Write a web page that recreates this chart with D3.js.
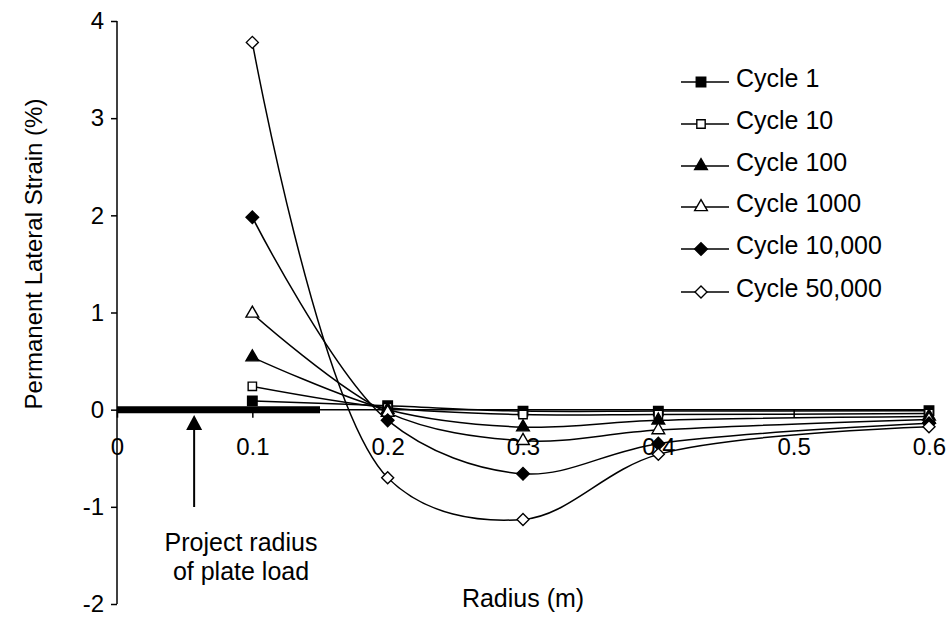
<!DOCTYPE html>
<html>
<head>
<meta charset="utf-8">
<script src="https://cdn.jsdelivr.net/npm/d3@7/dist/d3.min.js"></script>
<style>
  html, body { margin: 0; padding: 0; background: #fff; }
  svg { display: block; font-family: "Liberation Sans", Arial, sans-serif; }
</style>
</head>
<body>
<svg id="chart" width="948" height="617"></svg>
<script>
// Measurement radii (m)
const radius = [0.1, 0.2, 0.3, 0.4, 0.6];

// Permanent lateral strain (%) per load cycle
const cycle1     = [0.09, 0.04, -0.015, -0.015, -0.01];
const cycle10    = [0.24, 0.02, -0.05, -0.05, -0.04];
const cycle100   = [0.54, 0.00, -0.18, -0.11, -0.07];
const cycle1000  = [0.99, -0.03, -0.32, -0.21, -0.10];
const cycle10000 = [1.98, -0.11, -0.66, -0.35, -0.14];
const cycle50000 = [3.78, -0.70, -1.13, -0.46, -0.175];

const seriesNames = ["Cycle 1", "Cycle 10", "Cycle 100", "Cycle 1000", "Cycle 10,000", "Cycle 50,000"];
const seriesValues = [cycle1, cycle10, cycle100, cycle1000, cycle10000, cycle50000];
const seriesMarkers = ["squareFilled", "squareOpen", "triangleFilled", "triangleOpen", "diamondFilled", "diamondOpen"];

// Axis ticks
const xTicks = [0, 0.1, 0.2, 0.3, 0.4, 0.5, 0.6];
const xTickLabels = ["0", "0.1", "0.2", "0.3", "0.4", "0.5", "0.6"];
const yTicks = [-2, -1, 0, 1, 2, 3, 4];
const yTickLabels = ["-2", "-1", "0", "1", "2", "3", "4"];

// Plate load extent and its annotation
const plateRadius = [0, 0.15];
const arrowRadius = 0.057;
const annotationLines = ["Project radius", "of plate load"];

const svg = d3.select("#chart");
const FONT = 25;
const TICK_FONT = 24;
const FAMILY = "Liberation Sans, Arial, sans-serif";

const x = d3.scaleLinear().domain([0, 0.6]).range([117, 929]);
const y = d3.scaleLinear().domain([-2, 4]).range([604, 21]);

// Y axis
const yAxis = svg.append("g")
  .attr("transform", `translate(${x(0)},0)`)
  .call(d3.axisLeft(y).tickValues(yTicks).tickSize(6).tickPadding(7)
    .tickFormat((d, i) => yTickLabels[i]));
yAxis.select(".domain").remove();
yAxis.selectAll(".tick line").attr("stroke", "#000").attr("stroke-width", 1.5);
yAxis.selectAll(".tick text").attr("font-size", TICK_FONT).attr("fill", "#000")
  .attr("font-family", FAMILY);
svg.append("line")
  .attr("x1", x(0)).attr("x2", x(0)).attr("y1", y(4)).attr("y2", y(-2))
  .attr("stroke", "#000").attr("stroke-width", 1.5);

// X axis crossing at zero strain
const xAxis = svg.append("g")
  .attr("transform", `translate(0,${y(0)})`)
  .call(d3.axisBottom(x).tickValues(xTicks).tickSize(8)
    .tickFormat((d, i) => xTickLabels[i]));
xAxis.select(".domain").remove();
xAxis.selectAll(".tick line").attr("stroke", "#000").attr("stroke-width", 1.5);
xAxis.selectAll(".tick text").attr("font-size", TICK_FONT).attr("fill", "#000")
  .attr("font-family", FAMILY)
  .attr("y", 45).attr("dy", 0);
svg.append("line")
  .attr("x1", x(0)).attr("x2", x(0.6)).attr("y1", y(0)).attr("y2", y(0))
  .attr("stroke", "#000").attr("stroke-width", 1.5);

// Axis titles
svg.append("text")
  .attr("transform", "translate(42,254) rotate(-90)")
  .attr("text-anchor", "middle").attr("font-size", 24).attr("fill", "#000")
  .text("Permanent Lateral Strain (%)");
svg.append("text")
  .attr("x", (x(0) + x(0.6)) / 2).attr("y", 607)
  .attr("text-anchor", "middle").attr("font-size", FONT).attr("fill", "#000")
  .text("Radius (m)");

// Plate load extent drawn as a heavy bar on the zero line
svg.append("line")
  .attr("x1", x(plateRadius[0])).attr("x2", x(plateRadius[1]))
  .attr("y1", y(0)).attr("y2", y(0))
  .attr("stroke", "#000").attr("stroke-width", 7);

// Marker shapes
const diamondType = {
  draw(ctx, size) {
    const r = Math.sqrt(size / 2);
    ctx.moveTo(0, -r); ctx.lineTo(r, 0); ctx.lineTo(0, r); ctx.lineTo(-r, 0); ctx.closePath();
  }
};
const markerSpec = {
  squareFilled:   { type: d3.symbolSquare,   size: 90,  fill: "#000" },
  squareOpen:     { type: d3.symbolSquare,   size: 70,  fill: "#fff" },
  triangleFilled: { type: d3.symbolTriangle, size: 70,  fill: "#000" },
  triangleOpen:   { type: d3.symbolTriangle, size: 70,  fill: "#fff" },
  diamondFilled:  { type: diamondType,       size: 80,  fill: "#000" },
  diamondOpen:    { type: diamondType,       size: 72,  fill: "#fff" }
};
function markerPath(kind) {
  const s = markerSpec[kind];
  return d3.symbol().type(s.type).size(s.size)();
}

const line = d3.line()
  .x(d => x(d[0])).y(d => y(d[1]))
  .curve(d3.curveCatmullRom.alpha(0.5));

// Series: smoothed lines with markers
seriesValues.forEach((vals, i) => {
  const pts = radius.map((r, k) => [r, vals[k]]);
  const g = svg.append("g").attr("class", "series");
  g.append("path")
    .attr("d", line(pts))
    .attr("fill", "none").attr("stroke", "#000").attr("stroke-width", 1.5);
  g.selectAll("path.marker").data(pts).join("path")
    .attr("class", "marker")
    .attr("transform", d => `translate(${x(d[0])},${y(d[1])})`)
    .attr("d", markerPath(seriesMarkers[i]))
    .attr("fill", markerSpec[seriesMarkers[i]].fill)
    .attr("stroke", "#000").attr("stroke-width", 1.4);
});

// Annotation arrow pointing at the plate radius bar
const ax = x(arrowRadius);
svg.append("line")
  .attr("x1", ax).attr("x2", ax).attr("y1", 427).attr("y2", 507)
  .attr("stroke", "#000").attr("stroke-width", 2);
svg.append("path")
  .attr("d", `M${ax},415 L${ax - 8},430 L${ax + 8},430 Z`)
  .attr("fill", "#000");
svg.append("g").selectAll("text").data(annotationLines).join("text")
  .attr("x", 241).attr("y", (d, i) => 551 + i * 29)
  .attr("text-anchor", "middle").attr("font-size", FONT).attr("fill", "#000")
  .text(d => d);

// Legend
const legendRows = [82, 124, 166, 207, 249, 292];
const legend = svg.append("g");
seriesNames.forEach((name, i) => {
  const ry = legendRows[i];
  legend.append("line")
    .attr("x1", 681).attr("x2", 729).attr("y1", ry).attr("y2", ry)
    .attr("stroke", "#000").attr("stroke-width", 1.5);
  legend.append("path")
    .attr("transform", `translate(701,${ry})`)
    .attr("d", markerPath(seriesMarkers[i]))
    .attr("fill", markerSpec[seriesMarkers[i]].fill)
    .attr("stroke", "#000").attr("stroke-width", 1.4);
  legend.append("text")
    .attr("x", 736).attr("y", ry + 5)
    .attr("font-size", FONT).attr("fill", "#000")
    .text(name);
});
</script>
</body>
</html>
